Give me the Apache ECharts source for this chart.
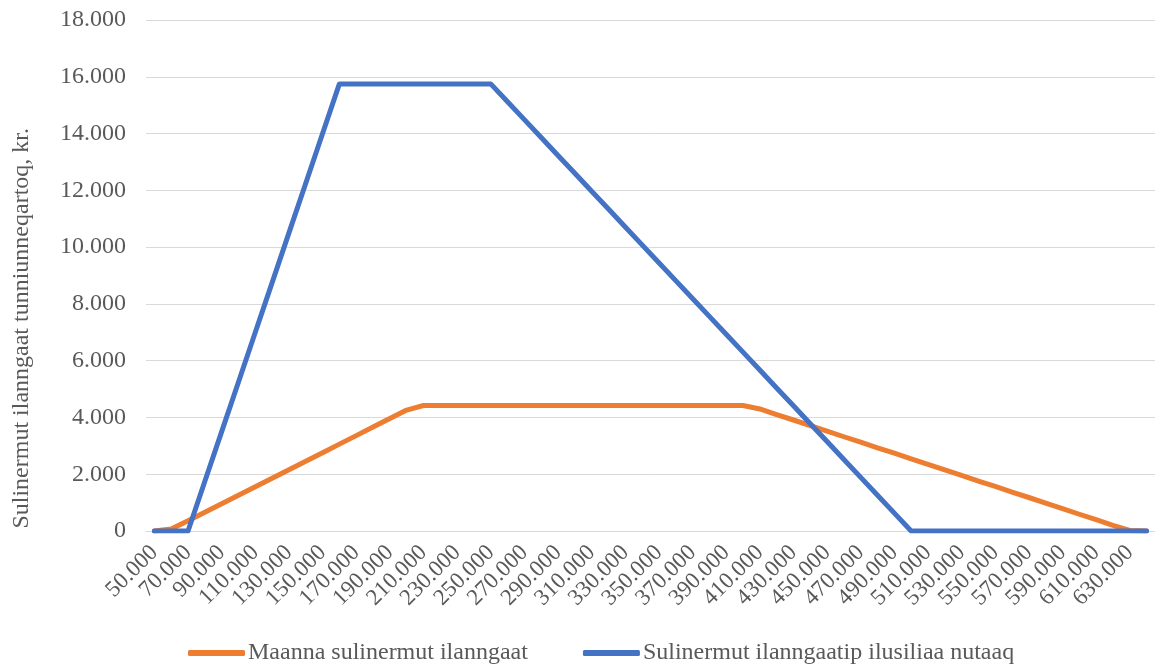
<!DOCTYPE html>
<html>
<head>
<meta charset="utf-8">
<script src="https://cdn.jsdelivr.net/npm/echarts@6/dist/echarts.min.js"></script>
<style>
  html, body { margin: 0; padding: 0; background: #fff; }
  #chart { width: 1155px; height: 664px; }
</style>
</head>
<body>
<div id="chart"></div>
<script>
// Income levels (kr.), step 10.000
const categories = [
  50000, 60000, 70000, 80000, 90000, 100000, 110000, 120000, 130000, 140000,
  150000, 160000, 170000, 180000, 190000, 200000, 210000, 220000, 230000, 240000,
  250000, 260000, 270000, 280000, 290000, 300000, 310000, 320000, 330000, 340000,
  350000, 360000, 370000, 380000, 390000, 400000, 410000, 420000, 430000, 440000,
  450000, 460000, 470000, 480000, 490000, 500000, 510000, 520000, 530000, 540000,
  550000, 560000, 570000, 580000, 590000, 600000, 610000, 620000, 630000, 640000
];

const seriesNames = ["Maanna sulinermut ilanngaat", "Sulinermut ilanngaatip ilusiliaa nutaaq"];

// Current employment deduction
const currentDeduction = [
  0, 70, 360, 660, 960, 1260, 1560, 1860, 2160, 2460,
  2760, 3060, 3360, 3660, 3960, 4260, 4420, 4420, 4420, 4420,
  4420, 4420, 4420, 4420, 4420, 4420, 4420, 4420, 4420, 4420,
  4420, 4420, 4420, 4420, 4420, 4420, 4300, 4100, 3910, 3710,
  3520, 3320, 3130, 2930, 2740, 2540, 2350, 2150, 1960, 1760,
  1570, 1370, 1180, 980, 790, 590, 400, 200, 20, 0
];

// New employment deduction model
const newDeduction = [
  0, 0, 0, 1750, 3500, 5250, 7000, 8750, 10500, 12250,
  14000, 15750, 15750, 15750, 15750, 15750, 15750, 15750, 15750, 15750,
  15750, 15120, 14490, 13860, 13230, 12600, 11970, 11340, 10710, 10080,
  9450, 8820, 8190, 7560, 6930, 6300, 5670, 5040, 4410, 3780,
  3150, 2520, 1890, 1260, 630, 0, 0, 0, 0, 0,
  0, 0, 0, 0, 0, 0, 0, 0, 0, 0
];

const yTicks = { min: 0, max: 18000, interval: 2000 };
const yAxisTitle = "Sulinermut ilanngaat tunniunneqartoq, kr.";

function fmt(n) {
  return String(n).replace(/\B(?=(\d{3})+(?!\d))/g, '.');
}

const FONT = '"Liberation Serif", "Times New Roman", serif';
const TXT = '#595959';

const chart = echarts.init(document.getElementById('chart'), null, { renderer: 'canvas' });
chart.setOption({
  animation: false,
  backgroundColor: '#ffffff',
  grid: { left: 146, right: 0, top: 20, bottom: 133, containLabel: false },
  graphic: [{
    type: 'text',
    left: 10,
    top: 128,
    rotation: Math.PI / 2,
    style: {
      text: yAxisTitle,
      font: '24px ' + FONT,
      fill: TXT
    },
    z: 10
  }],
  legend: {
    top: 636,
    left: 183,
    itemWidth: 57,
    itemHeight: 6,
    itemGap: 55,
    icon: 'roundRect',
    textStyle: { fontFamily: FONT, fontSize: 24, color: TXT, padding: [0, 0, 0, -2] },
    data: seriesNames
  },
  xAxis: {
    type: 'category',
    boundaryGap: true,
    data: categories,
    axisLine: { show: true, lineStyle: { color: '#D9D9D9', width: 1 } },
    axisTick: { show: false },
    axisLabel: {
      interval: 1,
      rotate: 45,
      margin: 18,
      fontFamily: FONT,
      fontSize: 23,
      color: TXT,
      formatter: v => fmt(v)
    },
    splitLine: { show: false }
  },
  yAxis: {
    type: 'value',
    min: yTicks.min,
    max: yTicks.max,
    interval: yTicks.interval,
    axisLine: { show: false },
    axisTick: { show: false },
    axisLabel: {
      margin: 20,
      fontFamily: FONT,
      fontSize: 24,
      color: TXT,
      formatter: v => fmt(v)
    },
    splitLine: { lineStyle: { color: '#D9D9D9', width: 1 } }
  },
  series: [
    {
      name: seriesNames[0],
      type: 'line',
      data: currentDeduction,
      symbol: 'none',
      color: '#ED7D31',
      lineStyle: { width: 5, color: '#ED7D31', cap: 'round', join: 'round' }
    },
    {
      name: seriesNames[1],
      type: 'line',
      data: newDeduction,
      symbol: 'none',
      color: '#4472C4',
      lineStyle: { width: 5, color: '#4472C4', cap: 'round', join: 'round' }
    }
  ]
});
</script>
</body>
</html>
